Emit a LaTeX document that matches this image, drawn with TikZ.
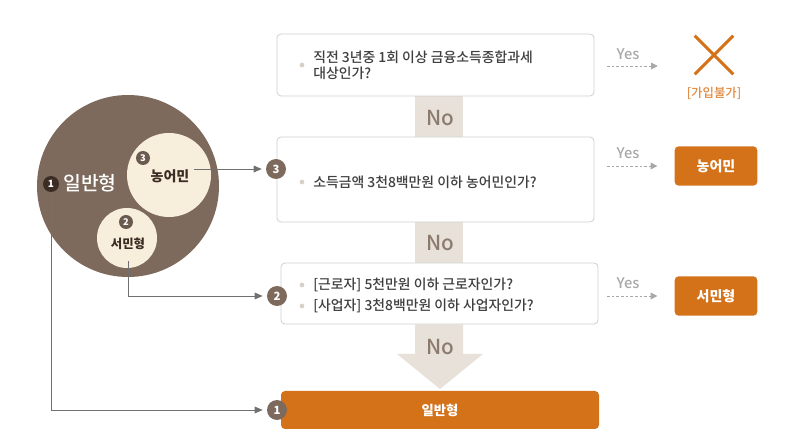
\documentclass[tikz,border=0pt]{standalone}
\usepackage{fontspec}
\setmainfont{Noto Sans CJK KR}
\newfontfamily\krmed{Noto Sans CJK KR Medium}
\usetikzlibrary{arrows.meta,fit,positioning,backgrounds}

\definecolor{circbrown}{HTML}{7D6A5C}
\definecolor{cream}{HTML}{F7EFDC}
\definecolor{badgedark}{HTML}{3B2C24}
\definecolor{badgegray}{HTML}{6B5B4F}
\definecolor{orangebox}{HTML}{D4721A}
\definecolor{orangetxt}{HTML}{E0893F}
\definecolor{bandgray}{HTML}{E7E1D9}
\definecolor{nocol}{HTML}{8C7B6D}
\definecolor{boxline}{HTML}{CFCFCF}
\definecolor{qtxt}{HTML}{3F3F3F}
\definecolor{dotgray}{HTML}{D5CFC7}
\definecolor{yesgray}{HTML}{A8A8A8}
\definecolor{linkgray}{HTML}{707070}

\tikzset{
  qbox/.style={draw=boxline, line width=0.6pt, rounded corners=3pt, fill=white, inner sep=0pt},
  qtext/.style={anchor=west, align=left, text=qtxt, font=\krmed\fontsize{10.4}{12}\selectfont, inner sep=0pt},
  qdot/.style={circle, fill=dotgray, minimum size=3.5pt, inner sep=0pt},
  badge/.style={circle, fill=circbrown, text=white, minimum size=15pt, inner sep=0pt, font=\bfseries\fontsize{8.5}{9}\selectfont},
  minibadge/.style={badge, fill=badgegray, minimum size=10.5pt, font=\bfseries\fontsize{7}{8}\selectfont},
  resbox/.style={fill=orangebox, rounded corners=3pt, text=white, font=\bfseries\fontsize{10.5}{12}\selectfont, minimum width=62pt, minimum height=29.5pt, inner sep=0pt},
  nolbl/.style={text=nocol, font=\krmed\fontsize{15.5}{16}\selectfont},
  yeslbl/.style={text=yesgray, font=\krmed\fontsize{11}{12}\selectfont, inner sep=1pt},
  yesarr/.style={yesgray, line width=0.6pt, dash pattern=on 2pt off 1.5pt, -{Triangle[length=5pt,width=5pt]}, shorten >=12.75pt},
  link/.style={linkgray, line width=0.6pt, -{Triangle[length=6pt,width=5pt]}, shorten >=3pt},
}

\begin{document}
\begin{tikzpicture}[x=0.75pt,y=-0.75pt]
  \useasboundingbox (0,0) rectangle (800,441);

  % circles
  \node [circle, fill=circbrown, minimum size=136.5pt, inner sep=0pt] (gen) at (128,186) {};
  \node [circle, fill=cream, minimum size=63pt, inner sep=0pt] (nong) at (169,175) {};
  \node [circle, fill=cream, minimum size=45pt, inner sep=0pt] (seo) at (127,238) {};

  \node [text=white, font=\krmed\fontsize{14.5}{15}\selectfont] (genlbl) at (90,183) {일반형};
  \node [badge, fill=badgedark, minimum size=12pt, font=\bfseries\fontsize{7.5}{8}\selectfont] (g1) at (51,184) {1};
  \node [text=badgedark, font=\bfseries\fontsize{10.5}{12}\selectfont] (nonglbl) at (170,176) {농어민};
  \node [minibadge] (n3) at (143,158) {3};
  \node [text=badgedark, font=\bfseries\fontsize{9.3}{11}\selectfont] (seolbl) at (128,244) {서민형};
  \node [minibadge] (s2) at (126,222) {2};

  % questions
  \node [qbox, fit={(277,34) (594,96)}] (q1) {};
  \node [qbox, fit={(277,137) (594,222)}] (q2) {};
  \node [qbox, fit={(281,263) (598,324)}] (q3) {};
  \node [fill=orangebox, rounded corners=3pt, inner sep=0pt, fit={(281,391) (599,429)}] (gbar) {};

  \node [qdot] (d1) at (302,65) {};
  \node [qtext] (t1) at (313,65) {직전 3년중 1회 이상 금융소득종합과세\\대상인가?};
  \node [qdot] (d2) at (302,182) {};
  \node [qtext] (t2) at (313,182) {소득금액 3천8백만원 이하 농어민인가?};
  \node [qdot] (d3) at (302,285) {};
  \node [qdot] (d4) at (302,306) {};
  \node [qtext] (t3) at (313,285) {[근로자] 5천만원 이하 근로자인가?};
  \node [qtext] (t4) at (313,306) {[사업자] 3천8백만원 이하 사업자인가?};
  \node [text=white, font=\bfseries\fontsize{10}{12}\selectfont] (glbl) at (gbar) {일반형};

  \node [badge] (b3) at (276,169) {3};
  \node [badge] (b2) at (277,296) {2};
  \node [badge] (b1) at (277,410) {1};

  % no bands
  \coordinate (bl) at (415,0);
  \coordinate (br) at (463,0);
  \coordinate (hl) at (397,0);
  \coordinate (hr) at (483,0);
  \coordinate (hy) at (0,354);
  \coordinate (tip) at (440,389);
  \begin{scope}[on background layer]
    \fill [bandgray] (q1.south -| bl) rectangle (q2.north -| br);
    \fill [bandgray] (q2.south -| bl) rectangle (q3.north -| br);
    \fill [bandgray] (q3.south -| bl) -- (hy -| bl) -- (hy -| hl) -- (tip)
      -- (hy -| hr) -- (hy -| br) -- (q3.south -| br) -- cycle;
  \end{scope}
  \node [nolbl] (no1) at (440,118) {No};
  \node [nolbl] (no2) at (440,243) {No};
  \node [nolbl] (no3) at (440,347) {No};

  % results
  \node (nope) at (714,55) [minimum size=28.5pt, inner sep=0pt] {};
  \draw [orangebox, line width=2.2pt] (nope.north west) -- (nope.south east)
    (nope.south west) -- (nope.north east);
  \node [text=orangetxt, font=\krmed\fontsize{9.3}{11}\selectfont] (nopelbl) at (714,93) {[가입불가]};
  \node [resbox] (r3) at (716,166) {농어민};
  \node [resbox] (r2) at (716,296) {서민형};

  \coordinate (y1) at (607,66);
  \coordinate (y2) at (607,166);
  \coordinate (y3) at (607,296);
  \draw [yesarr, shorten >=27.75pt] (y1) -- (y1 -| nope.west);
  \draw [yesarr] (y2) -- (r3);
  \draw [yesarr] (y3) -- (r2);
  \node [yeslbl] (yes1) at (628,54) {Yes};
  \node [yeslbl] (yes2) at (628,153) {Yes};
  \node [yeslbl] (yes3) at (628,283) {Yes};

  % links
  \draw [link] (nonglbl.east |- b3) -- (b3);
  \draw [link, shorten <=5pt] (seolbl.south) |- (b2);
  \draw [link] (g1.south) |- (b1);
\end{tikzpicture}
\end{document}
